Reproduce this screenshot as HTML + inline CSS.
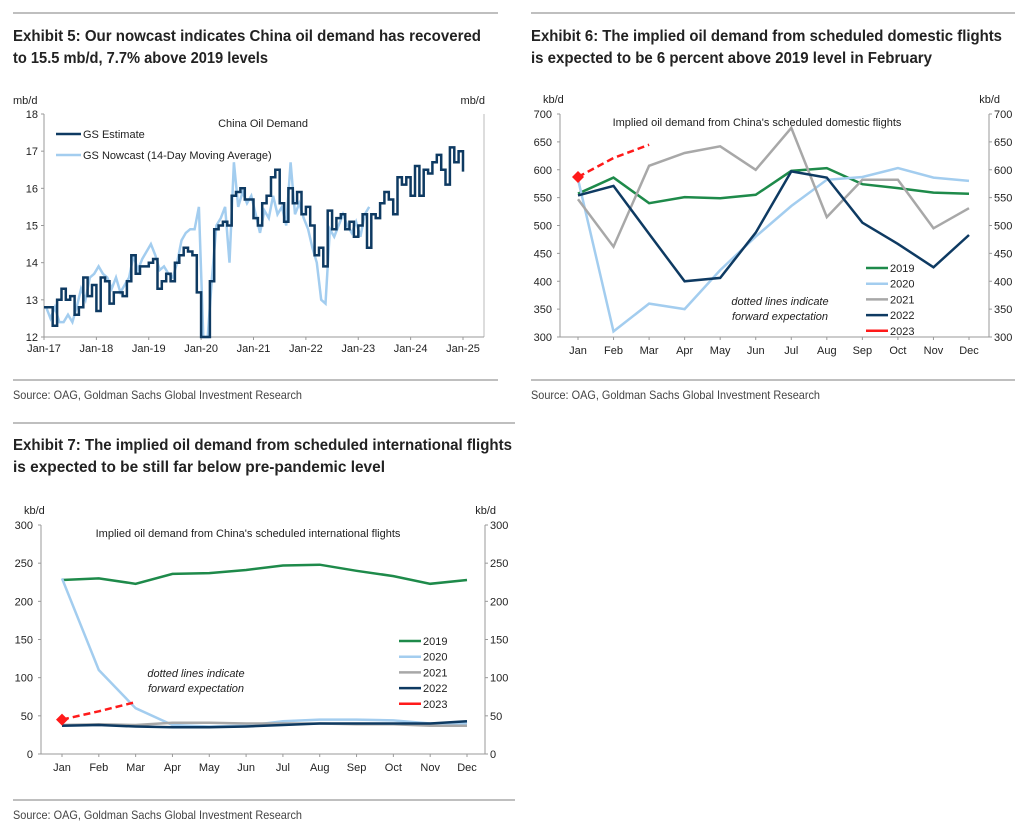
<!DOCTYPE html>
<html><head><meta charset="utf-8"><style>
body{margin:0;background:#fff}
svg{display:block;font-family:"Liberation Sans",sans-serif}
.t{font-size:11px;fill:#222}
.h{font-size:15.5px;font-weight:bold;fill:#222}
.s{font-size:12px;fill:#444}
</style></head><body>
<svg id="root" width="1027" height="826" viewBox="0 0 1027 826">
<line x1="13" y1="13" x2="498" y2="13" stroke="#aaa" stroke-width="1.5"/>
<line x1="531" y1="13" x2="1015" y2="13" stroke="#aaa" stroke-width="1.5"/>
<text class="h" x="13" y="41" textLength="468" lengthAdjust="spacingAndGlyphs">Exhibit 5: Our nowcast indicates China oil demand has recovered</text>
<text class="h" x="13" y="63" textLength="255" lengthAdjust="spacingAndGlyphs">to 15.5 mb/d, 7.7% above 2019 levels</text>
<text class="h" x="531" y="41" textLength="471" lengthAdjust="spacingAndGlyphs">Exhibit 6: The implied oil demand from scheduled domestic flights</text>
<text class="h" x="531" y="63" textLength="401" lengthAdjust="spacingAndGlyphs">is expected to be 6 percent above 2019 level in February</text>
<line x1="13" y1="380" x2="498" y2="380" stroke="#aaa" stroke-width="1.5"/>
<line x1="531" y1="380" x2="1015" y2="380" stroke="#aaa" stroke-width="1.5"/>
<text class="s" x="13" y="399" textLength="289" lengthAdjust="spacingAndGlyphs">Source: OAG, Goldman Sachs Global Investment Research</text>
<text class="s" x="531" y="399" textLength="289" lengthAdjust="spacingAndGlyphs">Source: OAG, Goldman Sachs Global Investment Research</text>
<line x1="13" y1="423" x2="515" y2="423" stroke="#aaa" stroke-width="1.5"/>
<text class="h" x="13" y="450" textLength="499" lengthAdjust="spacingAndGlyphs">Exhibit 7: The implied oil demand from scheduled international flights</text>
<text class="h" x="13" y="472" textLength="372" lengthAdjust="spacingAndGlyphs">is expected to be still far below pre-pandemic level</text>
<line x1="13" y1="800" x2="515" y2="800" stroke="#aaa" stroke-width="1.5"/>
<text class="s" x="13" y="819" textLength="289" lengthAdjust="spacingAndGlyphs">Source: OAG, Goldman Sachs Global Investment Research</text>
<g id="c5"></g>
<g id="c6"></g>
<g id="c7"></g>
</svg>
<script>
// ---- Exhibit 5 data ----
const c5XTicks = ["Jan-17","Jan-18","Jan-19","Jan-20","Jan-21","Jan-22","Jan-23","Jan-24","Jan-25"];
const c5YTicks = [12,13,14,15,16,17,18];
const gsEstimate = [12.8,12.8,12.3,13.0,13.3,13.0,13.1,12.6,12.8,13.6,13.1,13.4,
12.7,13.6,13.5,12.9,13.2,13.2,13.1,13.5,14.2,13.7,13.9,13.9,
14.0,14.1,13.3,13.5,13.7,13.5,14.0,14.2,14.4,14.3,14.2,13.2,
12.0,12.0,13.5,14.9,15.0,15.1,15.0,15.8,15.9,16.0,15.7,15.7,
15.2,15.0,15.6,15.8,16.3,16.5,15.6,15.1,16.0,15.6,15.9,15.3,
15.5,15.0,14.2,14.4,13.9,15.4,14.9,15.2,15.3,14.9,15.1,14.7,
15.0,15.3,14.4,15.3,15.2,15.6,15.9,15.7,15.3,16.3,16.1,16.3,
15.8,16.6,15.8,16.5,16.4,16.7,16.9,16.5,16.1,17.1,16.7,17.0,16.45];
const gsNowcast = [12.8,12.5,12.8,12.4,12.4,12.6,12.4,12.8,13.3,13.0,13.6,13.7,
13.9,13.7,13.6,13.3,13.6,13.2,13.4,13.6,14.2,13.8,14.1,14.3,
14.5,14.2,13.8,13.9,13.7,13.6,14.0,14.6,14.8,14.9,14.9,15.5,
12.0,12.0,13.6,15.0,15.2,15.5,14.0,16.7,15.5,15.9,15.6,15.8,
15.3,14.8,15.4,15.2,15.8,15.3,15.5,15.0,16.7,15.3,15.6,15.2,
14.9,14.4,14.0,13.0,12.9,14.9,14.7,15.0,15.3,15.0,14.8,15.1,
14.7,15.3,15.5];
// ---- Exhibit 6 data ----
const months = ["Jan","Feb","Mar","Apr","May","Jun","Jul","Aug","Sep","Oct","Nov","Dec"];
const c6YTicks = [300,350,400,450,500,550,600,650,700];
const dom2019 = [557,586,540,551,549,555,598,603,574,567,559,557];
const dom2020 = [583,310,360,350,420,480,535,582,587,603,586,580];
const dom2021 = [547,462,607,630,642,600,675,515,582,582,495,531];
const dom2022 = [554,571,485,400,406,487,597,586,505,467,425,483];
const dom2023 = [587,621,645];
// ---- Exhibit 7 data ----
const c7YTicks = [0,50,100,150,200,250,300];
const intl2019 = [228,230,223,236,237,241,247,248,240,233,223,228];
const intl2020 = [230,110,60,38,36,37,43,45,45,44,40,40];
const intl2021 = [38,39,38,41,41,40,40,40,39,39,37,37];
const intl2022 = [37,38,36,35,35,36,38,40,40,40,40,43];
const intl2023 = [45,56,68];

const NS="http://www.w3.org/2000/svg";
function mk(parent,tag,attrs,text){const e=document.createElementNS(NS,tag);for(const k in attrs)e.setAttribute(k,attrs[k]);if(text!==undefined)e.textContent=text;parent.appendChild(e);return e;}
const C={navy:"#0e3a62",light:"#a3cdef",green:"#1e8a4a",gray:"#a8a8a8",red:"#ff1a1a"};

// ===== Exhibit 5 =====
(function(){
const g=document.getElementById('c5');
const L=44,R=484,T=114,B=337,x0=44,xYear=(463-44)/8;
const x=m=>x0+m*xYear/12, y=v=>B-(v-12)/(18-12)*(B-T);
let e;
e=mk(g,'line',{x1:L,y1:T,x2:L,y2:B,stroke:'#999'});
e=mk(g,'line',{x1:R,y1:T,x2:R,y2:B,stroke:'#bbb'});
e=mk(g,'line',{x1:L,y1:B,x2:R,y2:B,stroke:'#999'});
c5YTicks.forEach(v=>{mk(g,'line',{x1:L-3,y1:y(v),x2:L,y2:y(v),stroke:'#999'});
 e=mk(g,'text',{class:'t',x:L-6,y:y(v)+4,'text-anchor':'end'},v);});
c5XTicks.forEach((s,i)=>{const xx=x(i*12);mk(g,'line',{x1:xx,y1:B,x2:xx,y2:B+3,stroke:'#999'});
 e=mk(g,'text',{class:'t',x:xx,y:B+15,'text-anchor':'middle'},s);});
e=mk(g,'text',{class:'t',x:13,y:104},'mb/d');
e=mk(g,'text',{class:'t',x:485,y:104,'text-anchor':'end'},'mb/d');
e=mk(g,'text',{class:'t',x:263,y:127,'text-anchor':'middle'},'China Oil Demand');
// nowcast line
let d=gsNowcast.map((v,i)=>(i?'L':'M')+x(i+0.5).toFixed(1)+','+y(Math.max(12,v)).toFixed(1)).join('');
d='M'+x(0)+','+y(gsNowcast[0])+d.replace(/^M/,'L');
e=mk(g,'path',{d:d,fill:'none',stroke:C.light,'stroke-width':2.5});
// estimate step
let p='';gsEstimate.forEach((v,i)=>{const yy=y(Math.max(12,v)).toFixed(1);p+=(i?'L'+x(i).toFixed(1)+','+yy:'M'+x(0)+','+yy)+'L'+Math.min(x(i+1),x(96)).toFixed(1)+','+yy;});
e=mk(g,'path',{d:p,fill:'none',stroke:C.navy,'stroke-width':2.5});
[['GS Estimate',C.navy,138],['GS Nowcast (14-Day Moving Average)',C.light,159]].forEach(([s,c,yy])=>{
 e=mk(g,'line',{x1:56,y1:yy-4,x2:81,y2:yy-4,stroke:c,'stroke-width':2.5});
 e=mk(g,'text',{class:'t',x:83,y:yy},s);});
})();

// ===== monthly charts =====
function monthly(id,o){
const g=document.getElementById(id);
const {L,R,T,B,xJan,xDec,vmin,vmax,ticks,series,legX,legY,ann,title,titleX}=o;
const x=i=>xJan+i*(xDec-xJan)/11, y=v=>B-(v-vmin)/(vmax-vmin)*(B-T);
let e;
e=mk(g,'line',{x1:L,y1:T,x2:L,y2:B,stroke:'#999'});
e=mk(g,'line',{x1:R,y1:T,x2:R,y2:B,stroke:'#999'});
e=mk(g,'line',{x1:L,y1:B,x2:R,y2:B,stroke:'#999'});
ticks.forEach(v=>{mk(g,'line',{x1:L-3,y1:y(v),x2:L,y2:y(v),stroke:'#999'});mk(g,'line',{x1:R,y1:y(v),x2:R+3,y2:y(v),stroke:'#999'});
 e=mk(g,'text',{class:'t',x:L-8,y:y(v)+4,'text-anchor':'end'},v);
 e=mk(g,'text',{class:'t',x:R+5,y:y(v)+4},v);});
months.forEach((m,i)=>{mk(g,'line',{x1:x(i),y1:B,x2:x(i),y2:B+3,stroke:'#999'});
 e=mk(g,'text',{class:'t',x:x(i),y:B+17,'text-anchor':'middle'},m);});
e=mk(g,'text',{class:'t',x:L-17,y:T-11},'kb/d');
e=mk(g,'text',{class:'t',x:R+11,y:T-11,'text-anchor':'end'},'kb/d');
e=mk(g,'text',{class:'t',x:titleX,y:T+12,'text-anchor':'middle'},title);
series.forEach(s=>{
 const d=s.vals.map((v,i)=>(i?'L':'M')+x(i).toFixed(1)+','+y(v).toFixed(1)).join('');
 e=mk(g,'path',{d:d,fill:'none',stroke:s.c,'stroke-width':2.5,'stroke-dasharray':s.dash?'7,4':'none'});
 
 if(s.dash){const cx=x(0),cy=y(s.vals[0]);e=mk(g,'path',{d:`M${cx-6},${cy}L${cx},${cy-6}L${cx+6},${cy}L${cx},${cy+6}Z`,fill:s.c});
  }
});
series.forEach((s,i)=>{const yy=legY+i*15.7;
 e=mk(g,'line',{x1:legX,y1:yy,x2:legX+22,y2:yy,stroke:s.c,'stroke-width':2.5});
 e=mk(g,'text',{class:'t',x:legX+24,y:yy+4},s.n);});
ann.forEach((s,i)=>{e=mk(g,'text',{class:'t','font-style':'italic',x:o.annX,y:o.annY+i*15,'text-anchor':'middle'},s);});
}
monthly('c6',{L:560,R:989,T:114,B:337,xJan:578,xDec:969,vmin:300,vmax:700,ticks:c6YTicks,
 title:"Implied oil demand from China's scheduled domestic flights",titleX:757,
 series:[{n:'2019',c:C.green,vals:dom2019},{n:'2020',c:C.light,vals:dom2020},{n:'2021',c:C.gray,vals:dom2021},{n:'2022',c:C.navy,vals:dom2022},{n:'2023',c:C.red,vals:dom2023,dash:1}],
 legX:866,legY:268,ann:['dotted lines indicate','forward expectation'],annX:780,annY:305});
monthly('c7',{L:41,R:485,T:525,B:754,xJan:62,xDec:467,vmin:0,vmax:300,ticks:c7YTicks,
 title:"Implied oil demand from China's scheduled international flights",titleX:248,
 series:[{n:'2019',c:C.green,vals:intl2019},{n:'2020',c:C.light,vals:intl2020},{n:'2021',c:C.gray,vals:intl2021},{n:'2022',c:C.navy,vals:intl2022},{n:'2023',c:C.red,vals:intl2023,dash:1}],
 legX:399,legY:641,ann:['dotted lines indicate','forward expectation'],annX:196,annY:677});
</script>
</body></html>
